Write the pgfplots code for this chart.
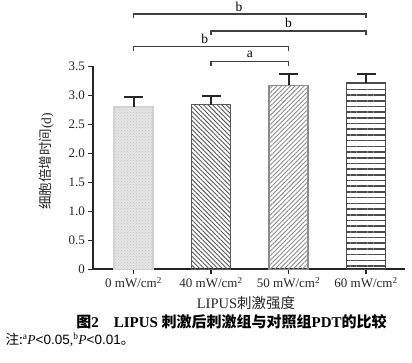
\documentclass[border=0pt]{standalone}
\usepackage{fontspec}
\setmainfont{Liberation Serif}
\newfontfamily\cjk{Noto Sans CJK SC}
\newfontfamily\sans{Liberation Sans}
\usepackage{pgfplots}
\pgfplotsset{compat=1.18}
\usetikzlibrary{patterns,patterns.meta}

\pgfplotsset{
  errstyle/.style={error bars/.cd, y dir=plus, y explicit,
    error bar style={line width=2pt,black!85},
    error mark options={rotate=90, mark size=9.5pt, line width=2pt, black!85}},
  barbase/.style={ybar, bar width=39pt, bar shift=0pt, line width=1.5pt, mark=none},
}

\begin{document}
\begin{tikzpicture}
\useasboundingbox (-93pt,-93.7pt) rectangle (319pt,269.3pt);
\begin{axis}[at={(0,0)}, anchor=south west, scale only axis,
  width=312pt, height=203pt,
  xmin=-0.523, xmax=3.503, ymin=0, ymax=3.5, clip=false,
  axis x line=bottom, axis y line=left,
  axis line style={-, line width=1.8pt, black!85},
  xtick={0,1,2,3},
  xticklabels={0 mW/cm\textsuperscript{2},40 mW/cm\textsuperscript{2},50 mW/cm\textsuperscript{2},60 mW/cm\textsuperscript{2}},
  ytick={0,0.5,1,1.5,2,2.5,3,3.5},
  yticklabels={0,0.5,1.0,1.5,2.0,2.5,3.0,3.5},
  tick align=outside, major tick length=4.5pt,
  tick style={line width=1.5pt, black!85},
  tick label style={font=\fontsize{13}{15}\selectfont, black!85},
]
% bars
\addplot[barbase, draw=gray!35, fill=gray!20, postaction={pattern=crosshatch dots, pattern color=gray!45}, errstyle]
  coordinates {(0,2.80) +- (0,0.17)};
\addplot[barbase, draw=black!65, pattern={Lines[angle=-45,distance=3.2pt,line width=0.9pt]}, pattern color=black!65, errstyle]
  coordinates {(1,2.84) +- (0,0.15)};
\addplot[barbase, draw=black!45, pattern={Lines[angle=45,distance=3.2pt,line width=0.9pt]}, pattern color=black!45, errstyle]
  coordinates {(2,3.17) +- (0,0.19)};
\addplot[barbase, draw=black!70, pattern={Lines[angle=0,distance=5.7pt,line width=1.6pt]}, pattern color=black!70, errstyle]
  coordinates {(3,3.21) +- (0,0.15)};
% significance brackets
\addplot[black!75, line width=1.3pt, mark=none] coordinates {(1,3.51) (1,3.58) (2,3.58) (2,3.51)};
\addplot[black!75, line width=1.3pt, mark=none] coordinates {(0,3.77) (0,3.84) (2,3.84) (2,3.77)};
\addplot[black!75, line width=1.3pt, mark=none] coordinates {(1,4.04) (1,4.11) (3,4.11) (3,4.04)};
\addplot[black!75, line width=1.3pt, mark=none] coordinates {(0,4.33) (0,4.40) (3,4.40) (3,4.33)};
\node[font=\fontsize{13.5}{15}\selectfont] at (axis cs:1.5,3.71) {a};
\node[font=\fontsize{13.5}{15}\selectfont] at (axis cs:0.92,3.97) {b};
\node[font=\fontsize{13.5}{15}\selectfont] at (axis cs:2.0,4.24) {b};
\node[font=\fontsize{13.5}{15}\selectfont] at (axis cs:1.36,4.53) {b};
\end{axis}
\node[rotate=90, font=\fontsize{13.5}{15}\selectfont, black!85] at (-46.5pt,107.8pt) {{\cjk 细胞倍增时间}(d)};
\node[font=\fontsize{14.5}{16}\selectfont, black!85] at (153pt,-33.7pt) {LIPUS{\cjk 刺激强度}};
\node[font=\fontsize{15}{17}\selectfont\bfseries] at (138.5pt,-52.7pt) {{\cjk 图}2\quad LIPUS {\cjk 刺激后刺激组与对照组}PDT{\cjk 的比较}};
\node[anchor=west, font=\fontsize{13.5}{15}\selectfont] at (-91pt,-70.7pt) {{\cjk 注:}\textsuperscript{a}\textit{P}{\sans <0.05},\textsuperscript{b}\textit{P}{\sans <0.01}{\cjk 。}};
\end{tikzpicture}
\end{document}
